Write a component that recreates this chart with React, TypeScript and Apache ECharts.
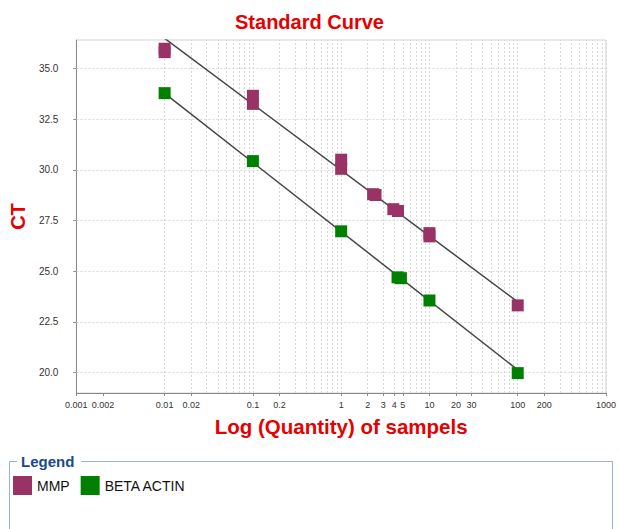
import React, { useEffect, useRef } from "react";
import * as echarts from "echarts";

const FONT = "'Liberation Sans', Arial, Helvetica, sans-serif";

// Tick labels
const xTickValues = [0.001, 0.002, 0.01, 0.02, 0.1, 0.2, 1, 2, 3, 4, 5, 10, 20, 30, 100, 200, 1000];
const yTickValues = [20, 22.5, 25, 27.5, 30, 32.5, 35];
const gridDecades = [0.001, 0.01, 0.1, 1, 10, 100];
const gridMultipliers = [1, 2, 3, 4, 5, 6, 7, 8, 9];

// Series names
const seriesNames = ["MMP", "BETA ACTIN"];

// Measured points [quantity, CT]
const mmpPoints = [
  [0.01, 35.97], [0.01, 35.8],
  [0.1, 33.65], [0.1, 33.25],
  [1, 30.5], [1, 30.05],
  [2.3, 28.8], [2.45, 28.76],
  [3.9, 28.06], [4.4, 27.97],
  [10, 26.88], [10, 26.72],
  [100, 23.32],
];
const betaPoints = [
  [0.01, 33.78],
  [0.1, 30.43],
  [1, 26.97],
  [4.35, 24.7], [4.75, 24.66],
  [10, 23.56],
  [100, 19.98],
];

// Standard curve (fit) end points
const mmpFit = [[0.01, 36.48], [100, 23.49]];
const betaFit = [[0.01, 33.77], [100, 20.14]];

const fmtX = (v: number) => String(+Number(v).toPrecision(6));

export default function App() {
  const ref = useRef<HTMLDivElement>(null);
  useEffect(() => {
    if (!ref.current) return;
    const chart = echarts.init(ref.current, null, { renderer: "svg" });
    const gridX: number[] = [];
    gridDecades.forEach((d) => gridMultipliers.forEach((m) => gridX.push(+(d * m).toPrecision(6))));
    gridX.push(1000);
    const gridLineData: any[] = [
      ...gridX.map((v) => ({ xAxis: v })),
      ...yTickValues.map((v) => ({ yAxis: v })),
    ];
    const option: any = {
      animation: false,
      backgroundColor: "#ffffff",
      title: {
        text: "Standard Curve",
        left: "center",
        top: 7,
        textStyle: { color: "#e60000", fontSize: 20, fontWeight: "bold", fontFamily: FONT },
      },
      legend: {
        data: seriesNames,
        left: 13,
        top: 476,
        padding: 0,
        icon: "rect",
        itemWidth: 19,
        itemHeight: 19,
        itemGap: 11,
        textStyle: { fontSize: 14, color: "#111", fontFamily: FONT },
      },
      grid: {
        left: 74,
        right: 10,
        top: 40,
        bottom: 136,
        show: true,
        borderColor: "#d4d4d4",
        borderWidth: 1,
      },
      xAxis: {
        type: "log",
        logBase: 10,
        min: 0.001,
        max: 1000,
        name: "Log (Quantity) of sampels",
        nameLocation: "middle",
        nameGap: 23,
        nameTextStyle: { color: "#e60000", fontSize: 20.5, fontWeight: "bold", fontFamily: FONT },
        axisLine: { show: true, lineStyle: { color: "#888", width: 1 } },
        axisTick: { show: true, length: 3, customValues: xTickValues, lineStyle: { color: "#888" } },
        axisLabel: {
          customValues: xTickValues,
          formatter: (v: number) => fmtX(v),
          fontSize: 9,
          color: "#333",
          fontFamily: FONT,
          margin: 7,
          hideOverlap: false,
        },
        splitLine: { show: false },
      },
      yAxis: {
        type: "value",
        min: 19,
        max: 36.4,
        name: "CT",
        nameLocation: "middle",
        nameRotate: 90,
        nameGap: 46,
        nameTextStyle: { color: "#e60000", fontSize: 20, fontWeight: "bold", fontFamily: FONT },
        axisLine: { show: true, lineStyle: { color: "#888", width: 1 } },
        axisTick: { show: true, length: 3, customValues: yTickValues, lineStyle: { color: "#888" } },
        axisLabel: {
          customValues: yTickValues,
          formatter: (v: number) => Number(v).toFixed(1),
          fontSize: 10,
          color: "#333",
          fontFamily: FONT,
          margin: 18,
        },
        splitLine: { show: false },
      },
      graphic: [
        {
          type: "rect",
          shape: { x: 9.5, y: 461.5, width: 603, height: 120 },
          style: { fill: "none", stroke: "#9db2cc", lineWidth: 1 },
        },
        {
          type: "rect",
          shape: { x: 17, y: 452, width: 64, height: 18 },
          style: { fill: "#ffffff" },
        },
        {
          type: "text",
          x: 21,
          y: 461,
          style: {
            text: "Legend",
            fill: "#1b4a8a",
            font: `bold 15px ${FONT}`,
            textVerticalAlign: "middle",
            verticalAlign: "middle",
          },
        },
      ],
      series: [
        {
          type: "line",
          name: "grid",
          data: [],
          silent: true,
          z: 1,
          markLine: {
            silent: true,
            z: 1,
            symbol: "none",
            label: { show: false },
            lineStyle: { color: "#d8d8d8", type: [2, 2], width: 1 },
            data: gridLineData,
          },
        },
        {
          type: "line",
          name: "MMP fit",
          data: mmpFit,
          symbol: "none",
          z: 4,
          lineStyle: { color: "#444", width: 1.5 },
        },
        {
          type: "line",
          name: "BETA ACTIN fit",
          data: betaFit,
          symbol: "none",
          z: 4,
          lineStyle: { color: "#444", width: 1.5 },
        },
        {
          type: "scatter",
          name: seriesNames[0],
          data: mmpPoints,
          symbol: "rect",
          symbolSize: 12,
          z: 10,
          itemStyle: { color: "#993366", opacity: 1 },
        },
        {
          type: "scatter",
          name: seriesNames[1],
          data: betaPoints,
          symbol: "rect",
          symbolSize: 12,
          z: 10,
          itemStyle: { color: "#008000", opacity: 1 },
        },
      ],
    };
    chart.setOption(option);
    return () => chart.dispose();
  }, []);
  return (
    <div
      ref={ref}
      style={{ position: "fixed", left: 0, top: 0, width: 619, height: 529 }}
    />
  );
}
